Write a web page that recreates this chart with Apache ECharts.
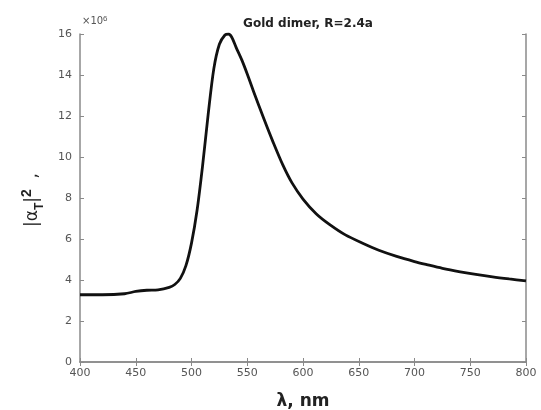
<!DOCTYPE html>
<html>
<head>
<meta charset="utf-8">
<script src="https://cdn.jsdelivr.net/npm/echarts@6/dist/echarts.min.js"></script>
<style>
  html, body { margin: 0; padding: 0; background: #fff; }
  #chart { width: 541px; height: 410px; }
</style>
</head>
<body>
<div id="chart"></div>
<script>
// wavelength (nm) and |alpha_T|^2 (x 10^6)
let lambda = [400, 420, 440, 450, 460, 470, 480, 485, 490, 495, 500, 505, 510, 515, 520, 525, 530, 533,
              536, 540, 545, 550, 556, 565, 573, 582, 590, 600, 612, 624, 638, 654, 668, 684, 700, 711,
              725, 741, 755, 770, 785, 800];
let alpha2 = [3.28, 3.28, 3.33, 3.44, 3.5, 3.52, 3.64, 3.78, 4.08, 4.7, 5.8, 7.4, 9.6, 12.1, 14.3, 15.5, 15.95, 16.0,
              15.85, 15.35, 14.75, 14.05, 13.15, 11.85, 10.75, 9.6, 8.75, 7.95, 7.22, 6.7, 6.2, 5.78, 5.45, 5.15, 4.9, 4.75,
              4.57, 4.4, 4.27, 4.15, 4.05, 3.96];
let xTicks = [400, 450, 500, 550, 600, 650, 700, 750, 800];
let yTicks = [0, 2, 4, 6, 8, 10, 12, 14, 16];

let axisGrey = '#8a8a8a';
let labelGrey = '#555';

let points = lambda.map(function (l, i) { return [l, alpha2[i]]; });

let myChart = echarts.init(document.getElementById('chart'));

let option = {
    animation: false,
    backgroundColor: '#fff',
    title: {
        text: 'Gold dimer, R=2.4a',
        left: 303,
        textAlign: 'center',
        top: 13,
        textStyle: { fontFamily: 'DejaVu Sans', fontSize: 12, fontWeight: 'bold', color: '#222' }
    },
    grid: { left: 80, right: 15, top: 34, bottom: 48 },
    xAxis: [
        {
            type: 'value',
            min: xTicks[0],
            max: xTicks[xTicks.length - 1],
            interval: 50,
            position: 'bottom',
            axisLine: { show: true, lineStyle: { color: axisGrey, width: 1.5 } },
            axisTick: { show: true, inside: true, length: 4, lineStyle: { color: axisGrey } },
            axisLabel: { color: labelGrey, fontSize: 11, margin: 6, fontFamily: 'DejaVu Sans' },
            splitLine: { show: false }
        },
        {
            type: 'value',
            min: xTicks[0],
            max: xTicks[xTicks.length - 1],
            interval: 50,
            position: 'top',
            axisLine: { show: true, lineStyle: { color: axisGrey, width: 1.5 } },
            axisTick: { show: true, inside: true, length: 4, lineStyle: { color: axisGrey } },
            axisLabel: { show: false },
            splitLine: { show: false }
        }
    ],
    yAxis: [
        {
            type: 'value',
            min: yTicks[0],
            max: yTicks[yTicks.length - 1],
            interval: 2,
            position: 'left',
            axisLine: { show: true, lineStyle: { color: axisGrey, width: 1.5 } },
            axisTick: { show: true, inside: true, length: 4, lineStyle: { color: axisGrey } },
            axisLabel: { color: labelGrey, fontSize: 11, margin: 8, fontFamily: 'DejaVu Sans' },
            splitLine: { show: false }
        },
        {
            type: 'value',
            min: yTicks[0],
            max: yTicks[yTicks.length - 1],
            interval: 2,
            position: 'right',
            axisLine: { show: true, lineStyle: { color: axisGrey, width: 1.5 } },
            axisTick: { show: true, inside: true, length: 4, lineStyle: { color: axisGrey } },
            axisLabel: { show: false },
            splitLine: { show: false }
        }
    ],
    graphic: [
        {
            type: 'text',
            left: 82,
            top: 15,
            style: {
                text: '×10{s|6}',
                rich: { s: { fontSize: 8, verticalAlign: 'top', lineHeight: 12, fill: labelGrey } },
                fontSize: 10,
                fontFamily: 'DejaVu Sans',
                fill: labelGrey
            }
        },
        {
            type: 'text',
            x: 303,
            y: 402,
            style: {
                text: 'λ, nm',
                fontSize: 17,
                fontWeight: 'bold',
                fontFamily: 'DejaVu Sans',
                fill: '#222',
                align: 'center',
                verticalAlign: 'middle'
            }
        },
        {
            type: 'text',
            x: 33,
            y: 200,
            rotation: Math.PI / 2,
            style: {
                text: '|α{sub|T}|{sup|2}  ,',
                fontSize: 17,
                fontFamily: 'DejaVu Sans',
                fill: '#222',
                align: 'center',
                verticalAlign: 'middle',
                rich: {
                    sub: { fontSize: 12, fontWeight: 'bold', verticalAlign: 'bottom', lineHeight: 26, fill: '#222' },
                    sup: { fontSize: 14, fontWeight: 'bold', verticalAlign: 'top', lineHeight: 26, fill: '#222' }
                }
            }
        }
    ],
    series: [
        {
            type: 'line',
            data: points,
            smooth: 0.3,
            showSymbol: false,
            lineStyle: { color: '#111', width: 2.8 }
        }
    ]
};

myChart.setOption(option);
</script>
</body>
</html>
